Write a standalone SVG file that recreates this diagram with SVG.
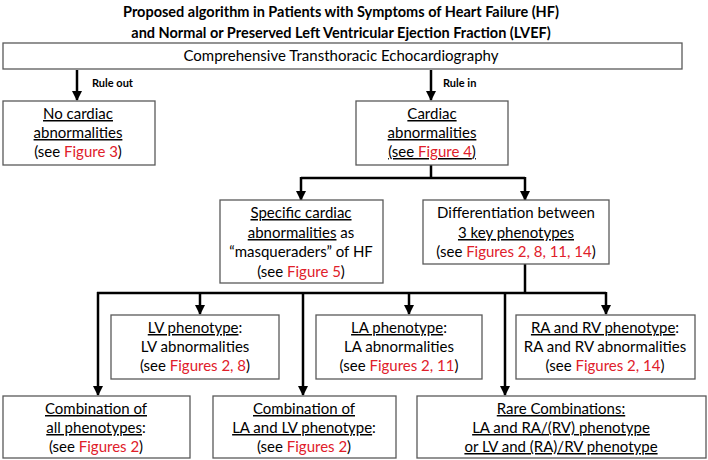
<svg xmlns="http://www.w3.org/2000/svg" width="708" height="460" viewBox="0 0 708 460">
<defs>
<marker id="ah" viewBox="0 0 10 10" refX="9" refY="5" markerWidth="4" markerHeight="4" orient="auto" markerUnits="strokeWidth">
<path d="M0,0 L10,5 L0,10 z" fill="#000"/>
</marker>
<style>
.box{fill:#fff;stroke:#595959;stroke-width:1.3}
.t{font-family:Lato,"Open Sans","Liberation Sans",sans-serif;font-size:15px;fill:#000;text-anchor:middle}
.ti{font-family:Lato,"Open Sans","Liberation Sans",sans-serif;font-size:14.5px;font-weight:bold;fill:#000;text-anchor:middle}
.lb{font-family:Lato,"Open Sans","Liberation Sans",sans-serif;font-size:11px;font-weight:bold;fill:#000}
.r{fill:#e0202a}
.u{text-decoration:underline}
.c{fill:none;stroke:#000;stroke-width:2.5}
.a{fill:none;stroke:#000;stroke-width:2.5;marker-end:url(#ah)}
</style>
</defs>
<rect width="708" height="460" fill="#fff"/>
<g id="title">
<text class="ti" x="341" y="17">Proposed algorithm in Patients with Symptoms of Heart Failure (HF)</text>
<text class="ti" x="341" y="38">and Normal or Preserved Left Ventricular Ejection Fraction (LVEF)</text>
</g>
<g id="connectors">
<line class="a" x1="77" y1="70" x2="77" y2="100"/>
<line class="a" x1="431" y1="70" x2="431" y2="100"/>
<text class="lb" x="92" y="87">Rule out</text>
<text class="lb" x="443" y="87">Rule in</text>
<polyline class="c" points="431,165 431,178"/>
<polyline class="c" points="301,178 525,178"/>
<line class="a" x1="301" y1="177" x2="301" y2="200"/>
<line class="a" x1="525" y1="177" x2="525" y2="200"/>
<polyline class="c" points="525,264 525,293"/>
<polyline class="c" points="97,293 606,293"/>
<line class="a" x1="98" y1="292" x2="98" y2="395"/>
<line class="a" x1="200" y1="292" x2="200" y2="314"/>
<line class="a" x1="303" y1="292" x2="303" y2="395"/>
<line class="a" x1="409" y1="292" x2="409" y2="314"/>
<line class="a" x1="505" y1="292" x2="505" y2="395"/>
<line class="a" x1="606" y1="292" x2="606" y2="314"/>
</g>
<g id="echo">
<rect class="box" x="3" y="43" width="679" height="26"/>
<text class="t" x="341" y="61">Comprehensive Transthoracic Echocardiography</text>
</g>
<g id="no-cardiac">
<rect class="box" x="3" y="101" width="152" height="64"/>
<text class="t" x="78" y="119"><tspan class="u">No cardiac</tspan></text>
<text class="t" x="78" y="138"><tspan class="u">abnormalities</tspan></text>
<text class="t" x="78" y="157">(see <tspan class="r">Figure 3</tspan>)</text>
</g>
<g id="cardiac">
<rect class="box" x="356" y="101" width="152" height="64"/>
<text class="t" x="432" y="119"><tspan class="u">Cardiac</tspan></text>
<text class="t" x="432" y="138"><tspan class="u">abnormalities</tspan></text>
<text class="t u" x="432" y="157">(see <tspan class="r">Figure 4</tspan>)</text>
</g>
<g id="specific">
<rect class="box" x="220" y="200" width="163" height="83"/>
<text class="t" x="301" y="218"><tspan class="u">Specific cardiac</tspan></text>
<text class="t" x="301" y="238"><tspan class="u">abnormalities</tspan> as</text>
<text class="t" x="301" y="257">“masqueraders” of HF</text>
<text class="t" x="301" y="277">(see <tspan class="r">Figure 5</tspan>)</text>
</g>
<g id="differentiation">
<rect class="box" x="423" y="200" width="186" height="64"/>
<text class="t" x="516" y="218">Differentiation between</text>
<text class="t" x="516" y="238"><tspan class="u">3 key phenotypes</tspan></text>
<text class="t" x="516" y="257">(see <tspan class="r">Figures 2, 8, 11, 14</tspan>)</text>
</g>
<g id="lv">
<rect class="box" x="111" y="315" width="168" height="64"/>
<text class="t" x="195" y="333"><tspan class="u">LV phenotype</tspan>:</text>
<text class="t" x="195" y="352">LV abnormalities</text>
<text class="t" x="195" y="371">(see <tspan class="r">Figures 2, 8</tspan>)</text>
</g>
<g id="la">
<rect class="box" x="316" y="315" width="166" height="64"/>
<text class="t" x="399" y="333"><tspan class="u">LA phenotype</tspan>:</text>
<text class="t" x="399" y="352">LA abnormalities</text>
<text class="t" x="399" y="371">(see <tspan class="r">Figures 2, 11</tspan>)</text>
</g>
<g id="ra-rv">
<rect class="box" x="516" y="315" width="179" height="64"/>
<text class="t" x="605" y="333"><tspan class="u">RA and RV phenotype</tspan>:</text>
<text class="t" x="605" y="352">RA and RV abnormalities</text>
<text class="t" x="605" y="371">(see <tspan class="r">Figures 2, 14</tspan>)</text>
</g>
<g id="comb-all">
<rect class="box" x="3" y="396" width="187" height="62"/>
<text class="t" x="96" y="414"><tspan class="u">Combination of</tspan></text>
<text class="t" x="96" y="433"><tspan class="u">all phenotypes</tspan>:</text>
<text class="t" x="96" y="452">(see <tspan class="r">Figures 2</tspan>)</text>
</g>
<g id="comb-la-lv">
<rect class="box" x="213" y="396" width="183" height="62"/>
<text class="t" x="304" y="414"><tspan class="u">Combination of</tspan></text>
<text class="t" x="304" y="433"><tspan class="u">LA and LV phenotype</tspan>:</text>
<text class="t" x="304" y="452">(see <tspan class="r">Figures 2</tspan>)</text>
</g>
<g id="rare">
<rect class="box" x="417" y="396" width="289" height="62"/>
<text class="t" x="561" y="414"><tspan class="u">Rare Combinations:</tspan></text>
<text class="t" x="561" y="433"><tspan class="u">LA and RA/(RV) phenotype</tspan></text>
<text class="t" x="561" y="452"><tspan class="u">or LV and (RA)/RV phenotype</tspan></text>
</g>
</svg>
